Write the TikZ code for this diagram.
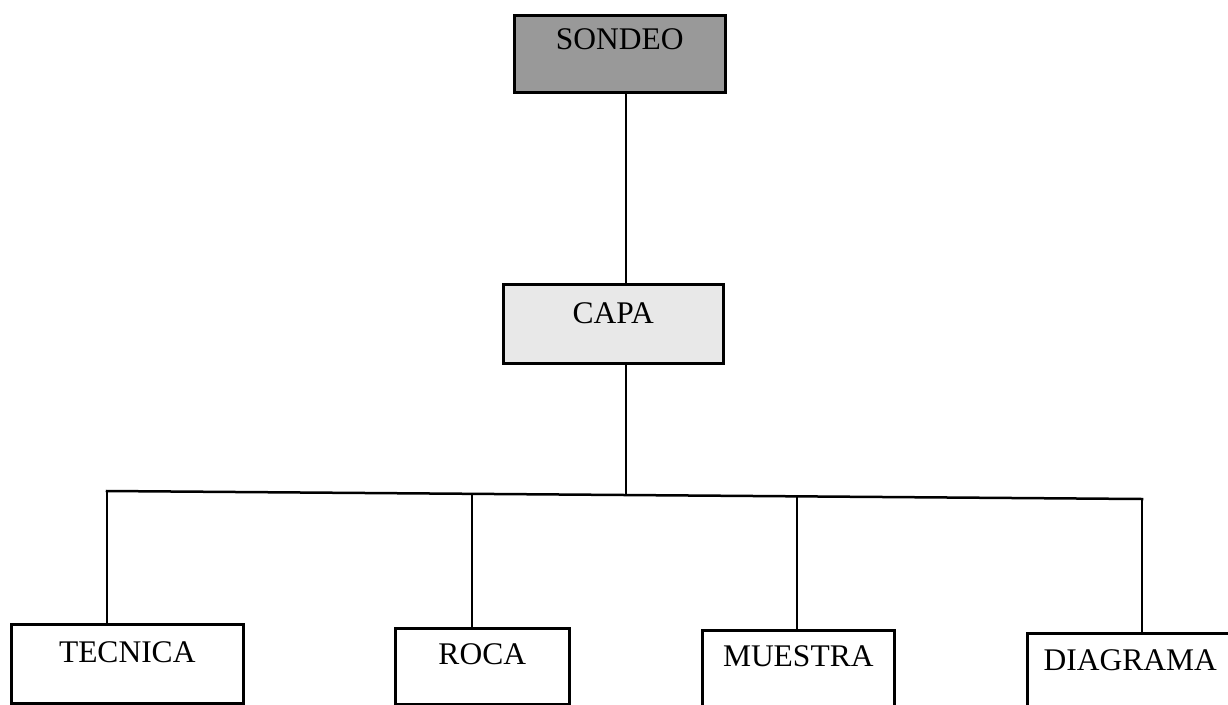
\documentclass[tikz,border=0pt]{standalone}
\usepackage{fontspec}
\setmainfont{Liberation Serif}
\begin{document}
\begin{tikzpicture}[x=1pt,y=-1pt,
  wire/.style={line width=2.5pt},
  unit/.style={draw, line width=2.5pt, anchor=north west, inner sep=0pt,
    font=\fontsize{31.5}{36}\selectfont},
  dark/.style={fill=black!40},
  light/.style={fill=black!9}]
\useasboundingbox (0,0) rectangle (1228,704);

% boxes: position = top-left corner, text baseline set by text height
\node[unit, dark,  minimum width=211pt, text height=34pt, text depth=43pt] (sondeo) at (513,14)  {SONDEO};
\node[unit, light, minimum width=220pt, text height=39pt, text depth=40pt] (capa)   at (502,283) {CAPA};
\node[unit, minimum width=232pt, text height=38pt, text depth=41pt] (tecnica)  at (10,623)   {TECNICA};
\node[unit, minimum width=174pt, text height=36pt, text depth=40pt] (roca)     at (394,627)  {ROCA};
\node[unit, minimum width=192pt, text height=36pt, text depth=41pt] (muestra)  at (701,629)  {MUESTRA};
\node[unit, minimum width=206pt, text height=37pt, text depth=39pt] (diagrama) at (1026,632) {DIAGRAMA};

% spine and bus joints (the bus drops slightly to the right)
\coordinate (jc) at (626,495);
\coordinate (j1) at (107,491);
\coordinate (j2) at (472,493.8);
\coordinate (j3) at (797,496.3);
\coordinate (j4) at (1142,499);

\draw[wire] (sondeo.south -| jc) -- (capa.north -| jc);
\draw[wire] (capa.south -| jc) -- (jc);
\draw[wire, line cap=rect] (j1) -- (j4);
\draw[wire] (j1) -- (j1 |- tecnica.north);
\draw[wire] (j2) -- (j2 |- roca.north);
\draw[wire] (j3) -- (j3 |- muestra.north);
\draw[wire] (j4) -- (j4 |- diagrama.north);
\end{tikzpicture}
\end{document}
